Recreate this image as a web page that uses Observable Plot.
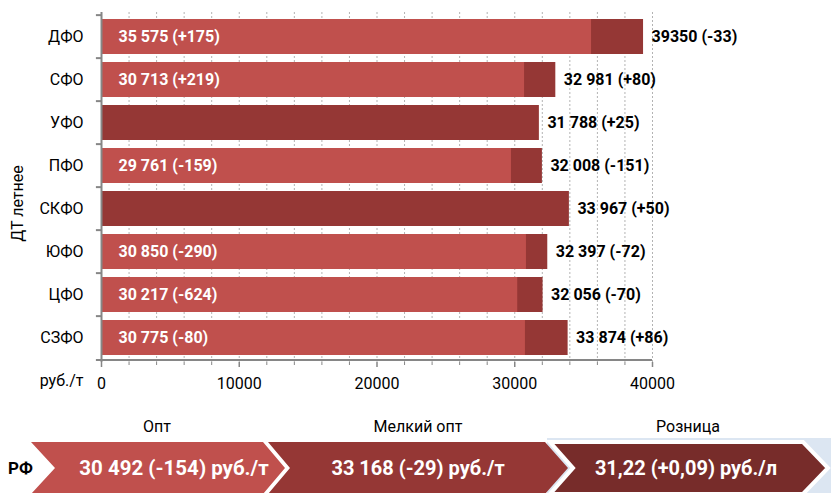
<!DOCTYPE html>
<html>
<head>
<meta charset="utf-8">
<script src="https://cdn.jsdelivr.net/npm/d3@7"></script>
<script src="https://cdn.jsdelivr.net/npm/@observablehq/plot@0.6"></script>
<style>
  html, body { margin: 0; padding: 0; background: #fff; }
  body { width: 831px; height: 493px; overflow: hidden; font-family: Roboto, "Noto Sans", sans-serif; }
  #chart svg { display: block; }
  #ribbon { position: relative; width: 831px; height: 93px; }
  #ribbon svg { position: absolute; left: 0; top: 0; }
  .cap { position: absolute; top: 17px; font-size: 16px; color: #000; transform: translateX(-50%); white-space: nowrap; }
</style>
</head>
<body>
<div id="chart"></div>
<div id="ribbon">
  <svg width="831" height="93" xmlns="http://www.w3.org/2000/svg" font-family="Roboto, 'Noto Sans', sans-serif">
    <rect x="547" y="38" width="284" height="55" fill="#dce6f2"></rect>
    <polygon points="31,42 263,42 285,68 263,94 31,94 55,68" fill="#c0504d"></polygon>
    <polygon points="268,42 545,42 568,68 545,94 268,94 290,68" fill="#953735"></polygon>
    <polygon points="550,42 803,42 828,68 803,94 550,94 573,68" fill="#772c2a" stroke="#fff" stroke-width="4" stroke-linejoin="miter"></polygon>
    <text id="rf" x="8" y="68" dy="0.35em" font-weight="bold" font-size="17" fill="#000"></text>
    <text id="t0" x="174" y="68" dy="0.35em" text-anchor="middle" font-weight="bold" font-size="20.5" fill="#fff"></text>
    <text id="t1" x="418" y="68" dy="0.35em" text-anchor="middle" font-weight="bold" font-size="20" fill="#fff"></text>
    <text id="t2" x="686" y="68" dy="0.35em" text-anchor="middle" font-weight="bold" font-size="20" fill="#fff"></text>
  </svg>
  <div class="cap" id="c0" style="left:157px"></div>
  <div class="cap" id="c1" style="left:418px"></div>
  <div class="cap" id="c2" style="left:688px"></div>
</div>
<script>
// ---- Data ----
const regions = ["ДФО", "СФО", "УФО", "ПФО", "СКФО", "ЮФО", "ЦФО", "СЗФО"];
const optValues = [35575, 30713, null, 29761, null, 30850, 30217, 30775];
const optLabels = ["35 575 (+175)", "30 713 (+219)", null, "29 761 (-159)", null, "30 850 (-290)", "30 217 (-624)", "30 775 (-80)"];
const totalValues = [39350, 32981, 31788, 32008, 33967, 32397, 32056, 33874];
const totalLabels = ["39350 (-33)", "32 981 (+80)", "31 788 (+25)", "32 008 (-151)", "33 967 (+50)", "32 397 (-72)", "32 056 (-70)", "33 874 (+86)"];
const xTicks = [0, 10000, 20000, 30000, 40000];
const gridStep = 2000;
const yTitle = "ДТ летнее";
const xUnit = "руб./т";
const ribbonRegion = "РФ";
const ribbonCaptions = ["Опт", "Мелкий опт", "Розница"];
const ribbonValues = ["30 492 (-154) руб./т", "33 168 (-29) руб./т", "31,22 (+0,09) руб./л"];

const rows = regions.map((r, i) => ({
  region: r, opt: optValues[i], optLabel: optLabels[i],
  total: totalValues[i], totalLabel: totalLabels[i]
}));
const optRows = rows.filter(d => d.opt != null);
const gridValues = d3.range(gridStep, xTicks[xTicks.length - 1] + 1, gridStep);
const minorTicks = d3.range(0, xTicks[xTicks.length - 1] + 1, gridStep).filter(v => !xTicks.includes(v));

const H = 400, mt = 12, mb = 38;
const step = (H - mt - mb) / regions.length;
const axisColor = "#868686";

const chart = Plot.plot({
  width: 831,
  height: H,
  marginTop: mt,
  marginBottom: mb,
  marginLeft: 101,
  marginRight: 179,
  style: { fontFamily: "Roboto, 'Noto Sans', sans-serif", fontSize: "16px", color: "#000", background: "#fff" },
  x: { domain: [0, 40000] },
  y: { domain: regions, paddingInner: 0.18, paddingOuter: 0.09 },
  marks: [
    Plot.ruleX(gridValues, { stroke: "#b3b3b3", strokeDasharray: "2,2", strokeWidth: 1 }),
    Plot.barX(rows, { x: "total", y: "region", fill: "#953735" }),
    Plot.barX(optRows, { x: "opt", y: "region", fill: "#c0504d" }),
    Plot.text(optRows, { x: 0, y: "region", text: "optLabel", dx: 17, textAnchor: "start", fill: "#fff", fontWeight: "bold", fontSize: 16 }),
    Plot.text(rows, { x: "total", y: "region", text: "totalLabel", dx: 8, textAnchor: "start", fill: "#000", fontWeight: "bold", fontSize: 16 }),
    Plot.axisY({ tickSize: 0, tickPadding: 18, label: null, fontSize: 16 }),
    Plot.ruleX([0], { stroke: axisColor, strokeWidth: 2 }),
    Plot.ruleY(regions, { y: d => d, x1: -370, x2: 0, dy: -step / 2, stroke: axisColor, strokeWidth: 2 }),
    Plot.ruleY(regions.slice(-1), { y: d => d, x1: -370, x2: 40000, dy: step / 2, stroke: axisColor, strokeWidth: 2 }),
    Plot.axisX({ ticks: xTicks, tickSize: 5, tickPadding: 10, tickFormat: d => String(d), label: null, stroke: axisColor, strokeWidth: 1.5, fontSize: 16 }),
    Plot.axisX({ ticks: minorTicks, tickSize: 3, tickFormat: () => "", label: null, stroke: axisColor, strokeWidth: 1 }),
    Plot.text([yTitle], { frameAnchor: "left", dx: -84, dy: 16, rotate: -90, textAnchor: "middle", fontSize: 16 }),
    Plot.text([xUnit], { frameAnchor: "bottom-left", dx: -18, dy: 23, textAnchor: "end", fontSize: 16 })
  ]
});
document.getElementById("chart").appendChild(chart);

document.getElementById("rf").textContent = ribbonRegion;
ribbonValues.forEach((v, i) => { document.getElementById("t" + i).textContent = v; });
ribbonCaptions.forEach((v, i) => { document.getElementById("c" + i).textContent = v; });
</script>
</body>
</html>
